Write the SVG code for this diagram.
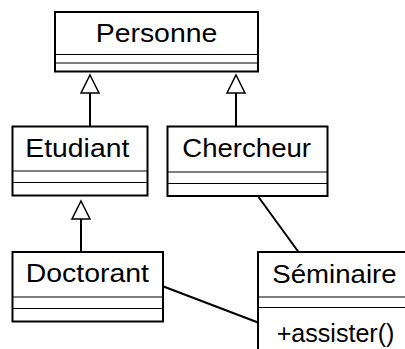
<svg xmlns="http://www.w3.org/2000/svg" width="405" height="349" viewBox="0 0 405 349">
  <style>
    .box { fill: #fff; stroke: #000; stroke-width: 2; }
    .sep { stroke: #000; stroke-width: 1; }
    .name { font-family: "Liberation Sans", Arial, sans-serif; font-size: 26px; fill: #000; }
    .edge { stroke: #000; stroke-width: 2; fill: none; }
    .head { fill: #fff; stroke: #000; stroke-width: 1.5; }
  </style>
  <defs>
    <!-- open triangle used for generalization -->
    <path id="gen" d="M0,0 L9,18 L-9,18 Z"/>
  </defs>

  <g id="connectors">
    <!-- Etudiant -> Personne -->
    <line class="edge" x1="90" y1="93" x2="90" y2="126"/>
    <use href="#gen" class="head" x="90" y="75"/>
    <!-- Chercheur -> Personne -->
    <line class="edge" x1="236" y1="93" x2="236" y2="126"/>
    <use href="#gen" class="head" x="236" y="75"/>
    <!-- Doctorant -> Etudiant -->
    <line class="edge" x1="81" y1="219" x2="81" y2="252"/>
    <use href="#gen" class="head" x="81" y="201"/>
    <!-- associations with Séminaire -->
    <line class="edge" x1="258.5" y1="197" x2="298.5" y2="252"/>
    <line class="edge" x1="163.5" y1="286.5" x2="258" y2="322.5"/>
  </g>

  <g id="Personne">
    <rect class="box" x="55" y="12" width="203" height="59.5"/>
    <text class="name" x="95.7" y="42.3" textLength="121.6" lengthAdjust="spacingAndGlyphs">Personne</text>
    <line class="sep" x1="55" y1="54.5" x2="258" y2="54.5"/>
    <line class="sep" x1="55" y1="63" x2="258" y2="63" stroke="#666"/>
  </g>

  <g id="Etudiant">
    <rect class="box" x="12.5" y="126.5" width="135" height="69"/>
    <text class="name" x="25.3" y="156.7" textLength="104" lengthAdjust="spacingAndGlyphs">Etudiant</text>
    <line class="sep" x1="12.5" y1="171" x2="147.5" y2="171" stroke="#666"/>
    <line class="sep" x1="12.5" y1="182.5" x2="147.5" y2="182.5"/>
  </g>

  <g id="Chercheur">
    <rect class="box" x="167.5" y="126.5" width="160" height="69.5"/>
    <text class="name" x="182.3" y="157.3" textLength="128.7" lengthAdjust="spacingAndGlyphs">Chercheur</text>
    <line class="sep" x1="167.5" y1="172" x2="327.5" y2="172" stroke="#666"/>
    <line class="sep" x1="167.5" y1="183.5" x2="327.5" y2="183.5"/>
  </g>

  <g id="Doctorant">
    <rect class="box" x="12.5" y="252" width="150.5" height="69.5"/>
    <text class="name" x="25.7" y="282.3" textLength="123.3" lengthAdjust="spacingAndGlyphs">Doctorant</text>
    <line class="sep" x1="12.5" y1="297" x2="163" y2="297" stroke="#666"/>
    <line class="sep" x1="12.5" y1="308.5" x2="163" y2="308.5"/>
  </g>

  <g id="Seminaire">
    <rect class="box" x="258" y="252" width="160" height="110"/>
    <text class="name" x="272.3" y="283.3" textLength="124.3" lengthAdjust="spacingAndGlyphs">Séminaire</text>
    <line class="sep" x1="258" y1="297" x2="418" y2="297" stroke="#666"/>
    <line class="sep" x1="258" y1="307.5" x2="418" y2="307.5"/>
    <text class="name" x="276.7" y="342.3" textLength="117.7" lengthAdjust="spacingAndGlyphs">+assister()</text>
  </g>
</svg>
